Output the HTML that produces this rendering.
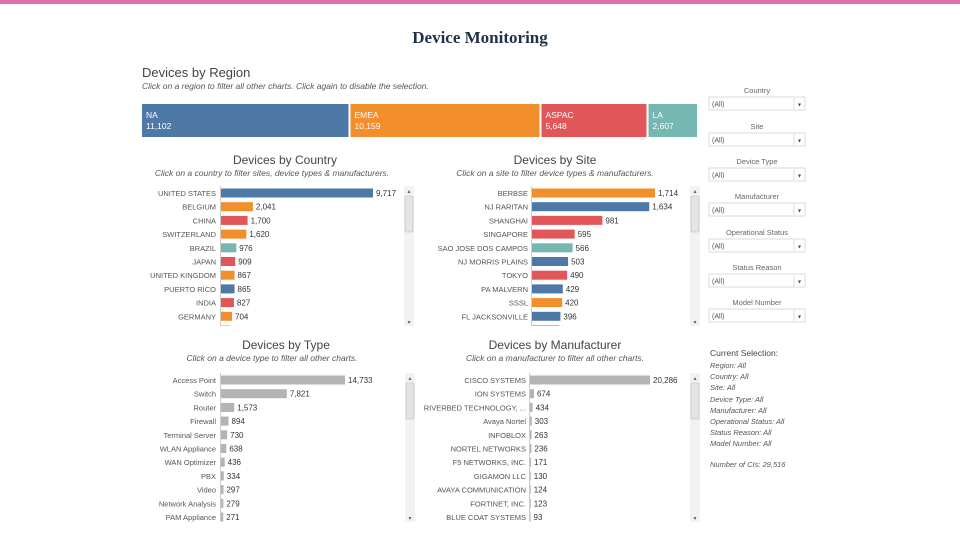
<!DOCTYPE html>
<html><head><meta charset="utf-8"><style>
body{margin:0;width:960px;height:540px;background:#fff;overflow:hidden;font-family:"Liberation Sans",sans-serif}
svg{position:absolute;left:0;top:0}
</style></head><body>
<svg id="s" width="960" height="540">
<rect x="0" y="0" width="960" height="4" fill="#e070b0"/>
<text x="480" y="43" text-anchor="middle" font-family="Liberation Serif,serif" font-weight="bold" font-size="17" fill="#1f3048">Device Monitoring</text>
<text x="142" y="77" font-size="13" fill="#444">Devices by Region</text>
<text x="142" y="89" font-size="8.5" font-style="italic" fill="#555">Click on a region to filter all other charts. Click again to disable the selection.</text>
<g id="region"></g>
<text x="285" y="164" text-anchor="middle" font-size="12" fill="#444">Devices by Country</text>
<text x="272" y="176" text-anchor="middle" font-size="8.5" font-style="italic" fill="#555">Click on a country to filter sites, device types &amp; manufacturers.</text>
<text x="555" y="164" text-anchor="middle" font-size="12" fill="#444">Devices by Site</text>
<text x="555" y="176" text-anchor="middle" font-size="8.5" font-style="italic" fill="#555">Click on a site to filter device types &amp; manufacturers.</text>
<text x="286" y="349" text-anchor="middle" font-size="12" fill="#444">Devices by Type</text>
<text x="272" y="361" text-anchor="middle" font-size="8.5" font-style="italic" fill="#555">Click on a device type to filter all other charts.</text>
<text x="555" y="349" text-anchor="middle" font-size="12" fill="#444">Devices by Manufacturer</text>
<text x="555" y="361" text-anchor="middle" font-size="8.5" font-style="italic" fill="#555">Click on a manufacturer to filter all other charts.</text>
<g id="charts"></g>
<g id="filters"></g>
<g font-size="7.5" fill="#555">
<text x="710" y="356" font-size="8.5" fill="#444">Current Selection:</text>
<g font-style="italic">
<text x="710" y="368">Region: All</text><text x="710" y="379">Country: All</text><text x="710" y="390">Site: All</text>
<text x="710" y="402">Device Type: All</text><text x="710" y="413">Manufacturer: All</text><text x="710" y="424">Operational Status: All</text>
<text x="710" y="435">Status Reason: All</text><text x="710" y="446">Model Number: All</text>
<text x="710" y="467">Number of CIs: 29,516</text></g></g>
</svg>
<script>
const regionNames=["NA","EMEA","ASPAC","LA"];
const regionValues=[11102,10159,5648,2607];
const regionColors=["#4e79a7","#f28e2b","#e15759","#76b7b2"];
const countryNames=["UNITED STATES","BELGIUM","CHINA","SWITZERLAND","BRAZIL","JAPAN","UNITED KINGDOM","PUERTO RICO","INDIA","GERMANY","MEXICO"];
const countryValues=[9717,2041,1700,1620,976,909,867,865,827,704,600];
const countryRegion=[0,1,2,1,3,2,1,0,2,1,3];
const siteNames=["BERBSE","NJ RARITAN","SHANGHAI","SINGAPORE","SAO JOSE DOS CAMPOS","NJ MORRIS PLAINS","TOKYO","PA MALVERN","SSSL","FL JACKSONVILLE","OTHER"];
const siteValues=[1714,1634,981,595,566,503,490,429,420,396,380];
const siteRegion=[1,0,2,2,3,0,2,0,1,0,0];
const typeNames=["Access Point","Switch","Router","Firewall","Terminal Server","WLAN Appliance","WAN Optimizer","PBX","Video","Network Analysis","PAM Appliance"];
const typeValues=[14733,7821,1573,894,730,638,436,334,297,279,271];
const mfrNames=["CISCO SYSTEMS","ION SYSTEMS","RIVERBED TECHNOLOGY, ...","Avaya Nortel","INFOBLOX","NORTEL NETWORKS","F5 NETWORKS, INC.","GIGAMON LLC","AVAYA COMMUNICATION","FORTINET, INC.","BLUE COAT SYSTEMS"];
const mfrValues=[20286,674,434,303,263,236,171,130,124,123,93];
const filterNames=["Country","Site","Device Type","Manufacturer","Operational Status","Status Reason","Model Number"];

const NS="http://www.w3.org/2000/svg";
function mk(p,tag,a,txt){const e=document.createElementNS(NS,tag);for(const k in a)e.setAttribute(k,a[k]);if(txt!==undefined)e.textContent=txt;p.appendChild(e);return e;}
const svg=document.getElementById('s');
// region
const rg=document.getElementById('region');
const tot=regionValues.reduce((a,b)=>a+b,0);
const rx0=142,rw=555-6;let cx=rx0;
regionValues.forEach((v,i)=>{const w=v/tot*rw;
 const r=mk(rg,'rect',{x:cx,y:104,width:w,height:33,fill:regionColors[i]});
 
 
 mk(rg,'text',{x:cx+4,y:118,'font-size':8.5,fill:'#fff'},regionNames[i]);
 mk(rg,'text',{x:cx+4,y:129,'font-size':8.5,fill:'#fff'},v.toLocaleString('en-US'));
 cx+=w+2;});
function barChart(name,names,values,colorFn,x0,maxW,y0,labelX,clipTop,clipBot,sbX){
 const g=mk(document.getElementById('charts'),'g',{});
 
 
 const mx=Math.max(...values);const sc=v=>v/mx*maxW;const yAt=i=>y0+i*13.7;
 mk(g,'line',{x1:x0-0.5,y1:clipTop,x2:x0-0.5,y2:clipBot,stroke:'#ccc','stroke-width':1});
 values.forEach((v,i)=>{const y=yAt(i);if(y-5>clipBot)return;
  const h=Math.min(9,clipBot-(y-4.5));
  const b=mk(g,'rect',{x:x0,y:y-4.5,width:sc(v),height:h,fill:colorFn(i)});
  
  
  if(y+4>clipBot)return;
  mk(g,'text',{x:labelX,y:y+3,'text-anchor':'end','font-size':7.5,fill:'#555'},names[i]);
  mk(g,'text',{x:x0+sc(v)+3,y:y+3,'font-size':8,fill:'#333'},v.toLocaleString('en-US'));});
 const sb=mk(g,'g',{});
 
 
 mk(sb,'rect',{x:sbX,y:clipTop,width:10,height:clipBot-clipTop,fill:'#f2f2f2'});
 mk(sb,'rect',{x:sbX+1,y:clipTop+10,width:8,height:36,fill:'#e4e4e4',stroke:'#bbb','stroke-width':0.6,rx:1});
 mk(sb,'text',{x:sbX+5,y:clipTop+7,'text-anchor':'middle','font-size':6,fill:'#666'},'▴');
 mk(sb,'text',{x:sbX+5,y:clipBot-2,'text-anchor':'middle','font-size':6,fill:'#666'},'▾');
}
barChart('country',countryNames,countryValues,i=>regionColors[countryRegion[i]],221,152,193,216,186,326,404);
barChart('site',siteNames,siteValues,i=>regionColors[siteRegion[i]],532,123,193,528,186,326,690);
barChart('type',typeNames,typeValues,()=>'#b4b4b4',221,124,380,216,373,522,405);
barChart('manufacturer',mfrNames,mfrValues,()=>'#b4b4b4',530,120,380,526,373,522,690);
// filters
const fg=document.getElementById('filters');
const fy=[90,126,161,196,232,267,302];
filterNames.forEach((n,i)=>{
 mk(fg,'text',{x:757,y:fy[i]+3,'text-anchor':'middle','font-size':7.5,fill:'#666'},n);
 const d=mk(fg,'g',{});
 
 
 mk(d,'rect',{x:709,y:fy[i]+7,width:96,height:13,fill:'#fff',stroke:'#ccc','stroke-width':0.7});
 mk(d,'line',{x1:794,y1:fy[i]+8,x2:794,y2:fy[i]+19,stroke:'#ddd'});
 mk(d,'text',{x:712,y:fy[i]+16.5,'font-size':7,fill:'#555'},'(All)');
 mk(d,'text',{x:799.5,y:fy[i]+16.5,'text-anchor':'middle','font-size':6,fill:'#444'},'▾');});
</script>
</body></html>
